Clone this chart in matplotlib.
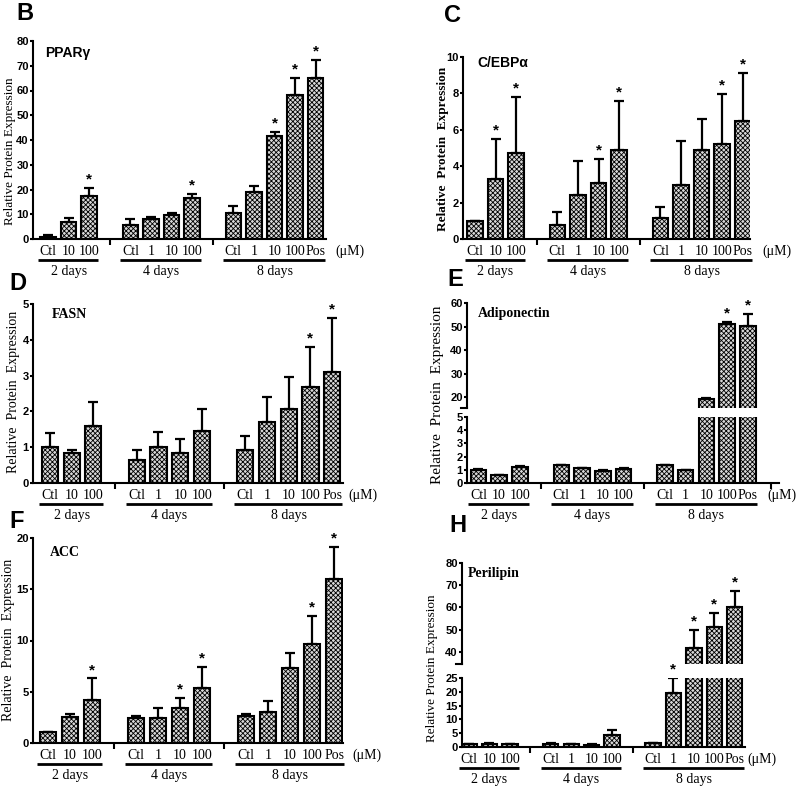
import matplotlib
matplotlib.use("Agg")
import matplotlib.pyplot as plt
import matplotlib.transforms as mtransforms

plt.rcParams['hatch.linewidth'] = 0.6

SANS = 'Liberation Sans'
SERIF = 'Liberation Serif'

# shared x layout
bar_labels = ['Ctl', '10', '100', 'Ctl', '1', '10', '100', 'Ctl', '1', '10', '100', 'Pos']
bar_pos = [0, 1, 2, 4, 5, 6, 7, 9, 10, 11, 12, 13]
group_names = ['2 days', '4 days', '8 days']
group_span = [(0, 2), (4, 7), (9, 13)]

# B - PPARg
pparg = [1.0, 6.7, 17.4, 5.5, 8.2, 9.5, 16.6, 10.7, 18.9, 41.6, 58.3, 65.2]
pparg_err = [0.5, 1.8, 3.1, 2.5, 0.8, 1.0, 1.7, 2.5, 2.7, 1.5, 6.7, 7.0]
pparg_star = [2, 6, 9, 10, 11]

# C - C/EBPa
cebpa = [1.0, 3.28, 4.74, 0.77, 2.43, 3.1, 4.89, 1.15, 2.96, 4.87, 5.2, 6.5]
cebpa_err = [0.0, 2.22, 3.06, 0.69, 1.84, 1.32, 2.7, 0.6, 2.42, 1.75, 2.76, 2.64]
cebpa_star = [1, 2, 5, 6, 10, 11]

# D - FASN
fasn = [1.0, 0.84, 1.59, 0.65, 1.0, 0.85, 1.46, 0.93, 1.69, 2.08, 2.68, 3.1]
fasn_err = [0.40, 0.09, 0.67, 0.28, 0.43, 0.37, 0.62, 0.39, 0.71, 0.88, 1.11, 1.5]
fasn_star = [10, 11]

# E - Adiponectin
adipo = [1.0, 0.6, 1.22, 1.33, 1.12, 0.92, 1.07, 1.33, 0.97, 19.2, 51.0, 50.3]
adipo_err = [0.05, 0.04, 0.04, 0.05, 0.04, 0.04, 0.04, 0.05, 0.04, 0.4, 1.0, 4.9]
adipo_star = [10, 11]

# F - ACC
acc = [1.05, 2.55, 4.2, 2.45, 2.4, 3.38, 5.37, 2.63, 3.06, 7.35, 9.66, 16.0]
acc_err = [0.07, 0.25, 2.1, 0.22, 1.05, 0.98, 2.08, 0.23, 1.07, 1.45, 2.74, 3.1]
acc_star = [2, 5, 6, 10, 11]

# H - Perilipin
plin = [1.0, 1.1, 1.0, 1.1, 1.0, 0.9, 4.5, 1.4, 19.7, 41.9, 51.1, 60.4]
plin_err = [0.1, 0.2, 0.2, 0.2, 0.1, 0.15, 1.8, 0.2, 5.3, 8.2, 6.3, 6.9]
plin_star = [8, 9, 10, 11]

fig = plt.figure(figsize=(8, 7.89), dpi=100)
W, H = 800, 789


def rect(x0, y0, x1, y1):
    return [x0 / W, 1 - y1 / H, (x1 - x0) / W, (y1 - y0) / H]


def down(ax, px):
    # x in data, y = axes bottom shifted down by px pixels
    return ax.get_xaxis_transform() + mtransforms.ScaledTranslation(0, -px / 100, fig.dpi_scale_trans)


def draw_bars(ax, vals, errs):
    ax.bar(bar_pos, vals, width=0.75, color='#d8d8d8', edgecolor='black', linewidth=1.5,
           hatch='xxxxxxx', yerr=[[0] * len(vals), errs], zorder=2,
           error_kw=dict(elinewidth=1.6, capthick=1.6, capsize=3.5, ecolor='black'))


def stars(ax, vals, errs, idx):
    for i in idx:
        ax.annotate('*', xy=(bar_pos[i], vals[i] + errs[i]), xytext=(0, 1),
                    textcoords='offset points', ha='center', va='bottom',
                    fontsize=11, fontweight='bold', fontfamily=SANS, annotation_clip=False)


def style_y(ax, ticks):
    ax.set_yticks(ticks, [str(t) for t in ticks], fontsize=8, fontweight='bold', fontfamily=SANS)
    ax.tick_params(axis='y', direction='out', length=2.5, width=1.5, pad=0.5)
    ax.spines['left'].set_linewidth(1.5)
    ax.spines['top'].set_visible(False)
    ax.spines['right'].set_visible(False)


def style_x(ax, xlim, seps=(3, 8), um_x=14.6):
    ax.set_xlim(*xlim)
    ax.set_xticks(bar_pos, bar_labels, fontsize=10, fontfamily=SERIF)
    ax.set_xticks(list(seps), minor=True)
    ax.tick_params(axis='x', which='major', length=0, pad=4)
    ax.tick_params(axis='x', which='minor', length=4, width=1.5, direction='out')
    ax.spines['bottom'].set_linewidth(1.5)
    ax.text(um_x, 0, '(\u03bcM)', transform=down(ax, 12), ha='center', va='center',
            fontsize=10, fontfamily=SERIF)
    for name, (s, e) in zip(group_names, group_span):
        ax.plot([s - 0.5, e + 0.45], [0, 0], color='black', lw=2, transform=down(ax, 21),
                clip_on=False, solid_capstyle='butt')
        ax.text((s + e) / 2, 0, name, transform=down(ax, 32), ha='center', va='center',
                fontsize=10, fontfamily=SERIF)


def single_panel(r, vals, errs, idx, ylim, ticks, xlim, um_x):
    ax = fig.add_axes(rect(*r))
    draw_bars(ax, vals, errs)
    stars(ax, vals, errs, idx)
    ax.set_ylim(*ylim)
    style_y(ax, ticks)
    style_x(ax, xlim, um_x=um_x)
    return ax


def broken_panel(r_top, r_low, vals, errs, idx, ylim_top, ylim_low, ticks_top, ticks_low,
                 xlim, um_x, seps=(3, 8)):
    top = fig.add_axes(rect(*r_top))
    low = fig.add_axes(rect(*r_low))
    for ax in (top, low):
        draw_bars(ax, vals, errs)
    top.set_ylim(*ylim_top)
    low.set_ylim(*ylim_low)
    style_y(top, ticks_top)
    style_y(low, ticks_low)
    top.spines['bottom'].set_visible(False)
    top.set_xlim(*xlim)
    top.set_xticks([])
    top.plot([-0.02, 0], [0, 0], color='black', lw=1.5, transform=top.transAxes, clip_on=False)
    style_x(low, xlim, seps=seps, um_x=um_x)
    for i in idx:
        ax = low if vals[i] + errs[i] <= ylim_low[1] else top
        stars(ax, vals, errs, [i])
    return top, low


# B
single_panel((33, 41, 326, 239), pparg, pparg_err, pparg_star, (0, 80), list(range(0, 81, 10)),
             (-0.73, 13.5), 14.66)
# C
single_panel((463, 57, 750, 239), cebpa, cebpa_err, cebpa_star, (0, 10), [0, 2, 4, 6, 8, 10],
             (-0.58, 13.35), 14.66)
# D
single_panel((33, 304, 343, 483), fasn, fasn_err, fasn_star, (0, 5), [0, 1, 2, 3, 4, 5],
             (-0.78, 13.5), 14.4)
# E
broken_panel((467, 303, 779, 408), (467, 417, 779, 483), adipo, adipo_err, adipo_star,
             (15.5, 60), (0, 5), [20, 30, 40, 50, 60], [0, 1, 2, 3, 4, 5],
             (-0.55, 14.5), 14.62, seps=(3, 8, 14.1))
# F
single_panel((33, 538, 343, 743), acc, acc_err, acc_star, (0, 20), [0, 5, 10, 15, 20],
             (-0.68, 13.4), 14.5)
# H
broken_panel((462, 563, 745, 664), (462, 678, 745, 747), plin, plin_err, plin_star,
             (34.6, 80), (0, 25), [40, 50, 60, 70, 80], [0, 5, 10, 15, 20, 25],
             (-0.34, 13.5), 14.34)

# y labels
fig.text(10 / W, 1 - 151 / H, 'Relative Protein Expression', rotation=90, ha='center', va='center',
         fontsize=9.5, fontfamily=SERIF)
fig.text(443 / W, 1 - 149 / H, 'Relative  Protein  Expression', rotation=90, ha='center', va='center',
         fontsize=9.5, fontfamily=SERIF, fontweight='bold')
fig.text(14 / W, 1 - 392 / H, 'Relative  Protein  Expression', rotation=90, ha='center', va='center',
         fontsize=10, fontfamily=SERIF)
fig.text(438 / W, 1 - 395 / H, 'Relative  Protein  Expression', rotation=90, ha='center', va='center',
         fontsize=11, fontfamily=SERIF)
fig.text(9 / W, 1 - 640 / H, 'Relative  Protein  Expression', rotation=90, ha='center', va='center',
         fontsize=10, fontfamily=SERIF)
fig.text(432 / W, 1 - 668 / H, 'Relative Protein Expression', rotation=90, ha='center', va='center',
         fontsize=9.5, fontfamily=SERIF)

# gene names
fig.text(45 / W, 1 - 53 / H, 'PPAR\u03b3', ha='left', va='center', fontsize=10, fontweight='bold', fontfamily=SANS)
fig.text(477 / W, 1 - 63 / H, 'C/EBP\u03b1', ha='left', va='center', fontsize=10, fontweight='bold', fontfamily=SANS)
fig.text(52 / W, 1 - 315 / H, 'FASN', ha='left', va='center', fontsize=10, fontweight='bold', fontfamily=SERIF)
fig.text(478 / W, 1 - 313 / H, 'Adiponectin', ha='left', va='center', fontsize=10, fontweight='bold', fontfamily=SERIF)
fig.text(50 / W, 1 - 552 / H, 'ACC', ha='left', va='center', fontsize=10, fontweight='bold', fontfamily=SERIF)
fig.text(468 / W, 1 - 573 / H, 'Perilipin', ha='left', va='center', fontsize=10, fontweight='bold', fontfamily=SERIF)

# panel letters
for letter, x, y in [('B', 16, 14), ('C', 444, 16), ('D', 9, 283), ('E', 447, 279), ('F', 9, 521), ('H', 449, 526)]:
    fig.text(x / W, 1 - y / H, letter, ha='left', va='center', fontsize=17, fontweight='bold', fontfamily=SANS)

fig.savefig('out.png', dpi=100)
